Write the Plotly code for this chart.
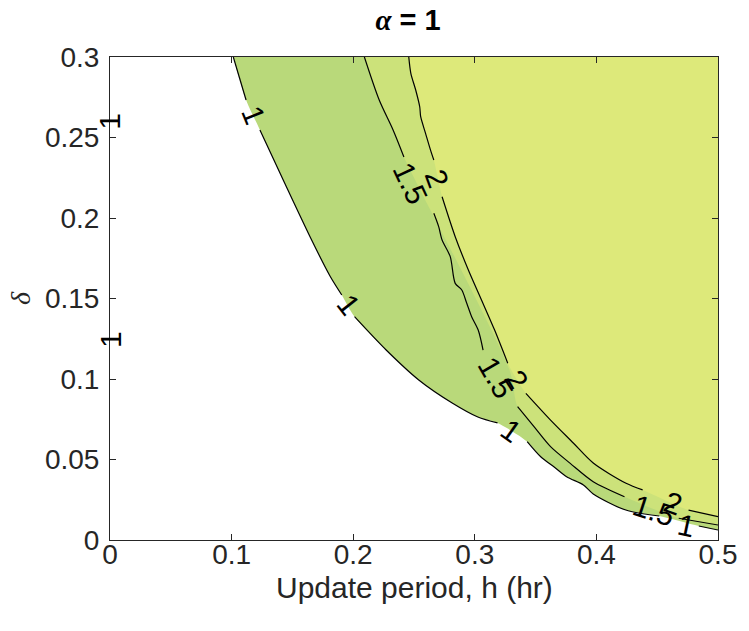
import plotly.graph_objects as go

# ---------------- data ----------------
x_range = [0, 0.5]
y_range = [0, 0.3]
x_ticks = [0, 0.1, 0.2, 0.3, 0.4, 0.5]
x_ticklabels = ["0", "0.1", "0.2", "0.3", "0.4", "0.5"]
y_ticks = [0, 0.05, 0.1, 0.15, 0.2, 0.25, 0.3]
y_ticklabels = ["0", "0.05", "0.1", "0.15", "0.2", "0.25", "0.3"]
x_title = "Update period, h (hr)"
y_title = "<i>δ</i>"

levels = [1, 1.5, 2]
level_colors = ["#b9d97a", "#cce27a", "#dde97a"]

# contour level 1 (segments broken where labels sit)
c1_segments = [
    ([0.1014, 0.1119], [0.300, 0.2733]),
    ([0.1233, 0.1436, 0.1646, 0.1809, 0.1906], [0.2547, 0.2217, 0.1882, 0.1640, 0.1522]),
    ([0.2011, 0.2271, 0.2539, 0.2814, 0.3025, 0.3187], [0.1387, 0.1180, 0.0994, 0.0851, 0.0764, 0.0727]),
    ([0.3431, 0.3542, 0.3650, 0.3755, 0.3893, 0.3974, 0.4242, 0.4517],
     [0.0611, 0.0517, 0.0455, 0.0393, 0.0342, 0.0286, 0.0186, 0.0149]),
    ([0.4842, 0.5], [0.0087, 0.0062]),
]
# contour level 1.5
c15_upper = ([0.2092, 0.2214, 0.2328, 0.2417], [0.300, 0.2733, 0.2547, 0.2379])
c15_wavy = ([0.2663, 0.2703, 0.2731, 0.2798, 0.2839, 0.2893, 0.2934, 0.2974, 0.3028, 0.3068],
            [0.2029, 0.1946, 0.1863, 0.1760, 0.1594, 0.1553, 0.1470, 0.1387, 0.1304, 0.1180])
c15_lower = [
    ([0.3352, 0.3487, 0.3623, 0.3785, 0.3974, 0.4231], [0.0828, 0.0704, 0.0580, 0.0476, 0.0362, 0.0269]),
    ([0.4677, 0.5], [0.0135, 0.0093]),
]
# edge of the 1.5 fill between the upper and lower parts
fill15_bridge = ([0.3285], [0.1056])
# contour level 2
c2_segments = [
    ([0.2457, 0.2474, 0.2514, 0.2547, 0.2555, 0.2595, 0.2636, 0.2663],
     [0.300, 0.2899, 0.2795, 0.2691, 0.2629, 0.2526, 0.2422, 0.2360]),
    ([0.2731, 0.2839, 0.2947, 0.3055, 0.3163, 0.3271], [0.2132, 0.1884, 0.1677, 0.1491, 0.1304, 0.1098]),
    ([0.3420, 0.3623, 0.3812, 0.3974, 0.4244, 0.4380], [0.0911, 0.0745, 0.0601, 0.0478, 0.0352, 0.0311]),
    ([0.4758, 0.5], [0.0186, 0.0145]),
]

# contour labels: text, x, y, angle
label_text = ["1", "1", "1", "1", "1", "1", "1.5", "1.5", "1.5", "2", "2", "2"]
label_x = [0.1176, 0.1960, 0.3298, 0.4745, 0.0, 0.0, 0.2474, 0.3179, 0.4474, 0.2690, 0.3339, 0.4637]
label_y = [0.2640, 0.1460, 0.0683, 0.0093, 0.2598, 0.1242, 0.2217, 0.1012, 0.0186, 0.2247, 0.0994, 0.0228]
label_angle = [68, 52, 35, 12, -90, -90, 65, 60, 18, 70, 58, 20]

SANS = "Liberation Sans, Arial, sans-serif"
SERIF = "Liberation Serif, Times New Roman, serif"

# ---------------- helpers ----------------
def join(segs):
    xs, ys = [], []
    for sx, sy in segs:
        xs += list(sx)
        ys += list(sy)
    return xs, ys

def with_gaps(segs):
    xs, ys = [], []
    for sx, sy in segs:
        xs += list(sx) + [None]
        ys += list(sy) + [None]
    return xs, ys

fig = go.Figure()

# filled bands: an invisible frame (top edge + right edge), then the smooth boundary filled to it
for segs, col in zip([c1_segments, [c15_upper, fill15_bridge] + c15_lower, c2_segments], level_colors):
    bx, by = join(segs)
    fig.add_trace(go.Scatter(x=[bx[0], x_range[1], x_range[1]], y=[y_range[1], y_range[1], by[-1]],
                             mode="lines", line=dict(width=0), hoverinfo="skip", showlegend=False))
    fig.add_trace(go.Scatter(x=bx, y=by, mode="lines", fill="tonexty", fillcolor=col,
                             line=dict(width=0, shape="spline", smoothing=0.8),
                             hoverinfo="skip", showlegend=False))

# contour lines
for segs in [c1_segments, [c15_upper, c15_wavy] + c15_lower, c2_segments]:
    lx, ly = with_gaps(segs)
    fig.add_trace(go.Scatter(x=lx, y=ly, mode="lines",
                             line=dict(color="black", width=1.2, shape="spline", smoothing=0.8),
                             hoverinfo="skip", showlegend=False))

# contour labels
for t, x, y, a in zip(label_text, label_x, label_y, label_angle):
    fig.add_annotation(x=x, y=y, text=t, showarrow=False, textangle=a,
                       xanchor="center", yanchor="middle",
                       font=dict(family=SANS, size=30, color="black"))

# x-axis title placed just under the tick labels
fig.add_annotation(x=0.5, y=0, xref="paper", yref="paper", text=x_title, showarrow=False,
                   xanchor="center", yanchor="middle", yshift=-47, borderpad=0,
                   font=dict(family=SANS, size=30, color="#262626"))

axis_common = dict(
    showline=True, linecolor="#262626", linewidth=1, mirror="ticks",
    ticks="inside", ticklen=6, tickwidth=1, tickcolor="#262626",
    showgrid=False, zeroline=False,
    tickfont=dict(family=SANS, size=28, color="#262626"),
)

fig.update_layout(
    width=749, height=631,
    margin=dict(l=110, r=23, t=57, b=91),
    paper_bgcolor="white", plot_bgcolor="white",
    title=dict(text='<span style="font-family:Liberation Serif"><i><b>α</b></i></span><b> = 1</b>',
               x=408 / 749, xref="container", xanchor="center",
               y=1 - 20 / 631, yref="container", yanchor="middle",
               font=dict(family=SANS, size=29, color="black")),
    xaxis=dict(range=x_range, tickvals=x_ticks, ticktext=x_ticklabels,
               ticklabelstandoff=-11, **axis_common),
    yaxis=dict(range=y_range, tickvals=y_ticks, ticktext=y_ticklabels,
               title=dict(text=y_title, standoff=6,
                          font=dict(family=SERIF, size=28, color="#262626")),
               ticklabelstandoff=4, **axis_common),
)

fig.write_html("out.html")
